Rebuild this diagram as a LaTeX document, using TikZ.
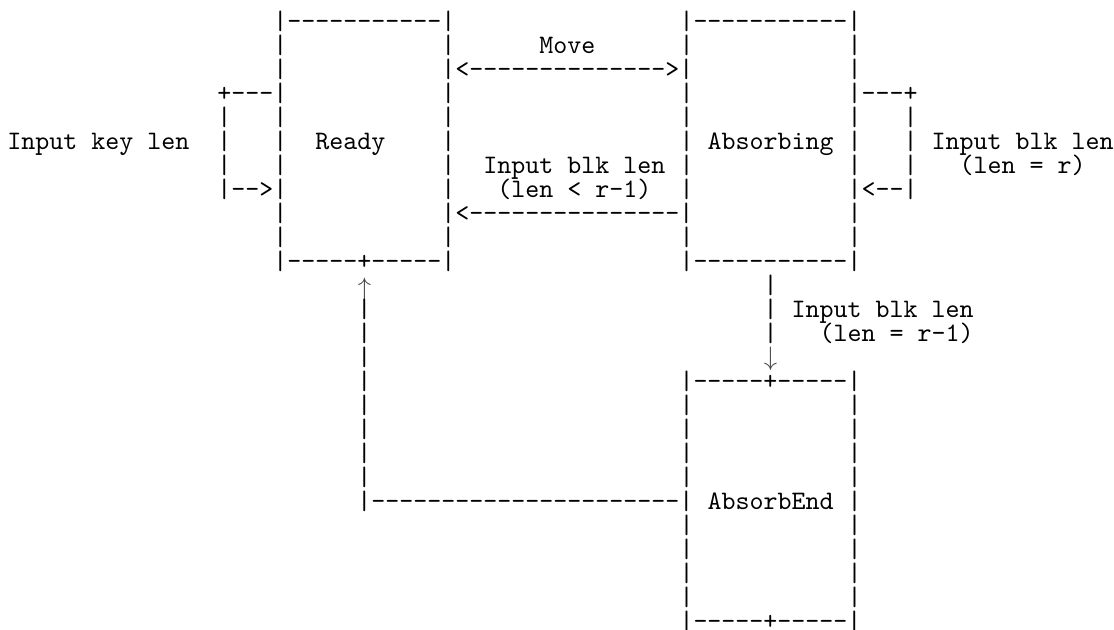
\documentclass[tikz,border=0pt]{standalone}
\usepackage{xcolor}
\tikzset{
  seg/.style={anchor=base west, inner sep=0pt, outer sep=0pt,
    font=\fontsize{10}{10}\selectfont\ttfamily, text=black}
}
% col, line, text
\newcommand\T[3]{\node[seg] (t#2-#1) at ({2.81pt+#1*5.25pt},{-10.9pt-(#2-1)*9.0pt}) {#3};}
\newcommand\arr[1]{\makebox[5.25pt]{\color{black!72}#1}}
\begin{document}
\begin{tikzpicture}
\useasboundingbox (0,0) rectangle (417.75pt,-235.9pt);
% line 1
\T{19}{1}{|-----------|} \T{48}{1}{|-----------|}
% line 2
\T{19}{2}{|} \T{31}{2}{|} \T{38}{2}{Move} \T{48}{2}{|} \T{60}{2}{|}
% line 3
\T{19}{3}{|} \T{31}{3}{|<-------------->|} \T{60}{3}{|}
% line 4
\T{15}{4}{+---|} \T{31}{4}{|} \T{48}{4}{|} \T{60}{4}{|---+}
% line 5
\T{15}{5}{|} \T{19}{5}{|} \T{31}{5}{|} \T{48}{5}{|} \T{60}{5}{|} \T{64}{5}{|}
% line 6
\T{0}{6}{Input key len} \T{15}{6}{|} \T{19}{6}{|} \T{22}{6}{Ready} \T{31}{6}{|}
\T{48}{6}{|} \T{50}{6}{Absorbing} \T{60}{6}{|} \T{64}{6}{|} \T{66}{6}{Input blk len}
% line 7
\T{15}{7}{|} \T{19}{7}{|} \T{31}{7}{|} \T{34}{7}{Input blk len} \T{48}{7}{|}
\T{60}{7}{|} \T{64}{7}{|} \T{68}{7}{(len = r)}
% line 8
\T{15}{8}{|-->|} \T{31}{8}{|} \T{35}{8}{(len < r-1)} \T{48}{8}{|} \T{60}{8}{|<--|}
% line 9
\T{19}{9}{|} \T{31}{9}{|<---------------|} \T{60}{9}{|}
% line 10
\T{19}{10}{|} \T{31}{10}{|} \T{48}{10}{|} \T{60}{10}{|}
% line 11
\T{19}{11}{|-----+-----|} \T{48}{11}{|-----------|}
% line 12
\node[seg, yshift=-1.2pt] (t12-25) at ({2.81pt+25*5.25pt},{-10.9pt-11*9.0pt}) {\arr{$\uparrow$}};
\T{54}{12}{|}
% line 13
\T{25}{13}{|} \T{54}{13}{|} \T{56}{13}{Input blk len}
% line 14
\T{25}{14}{|} \T{54}{14}{|} \T{58}{14}{(len = r-1)}
% line 15
\T{25}{15}{|} \T{54}{15}{\arr{$\downarrow$}}
% line 16
\T{25}{16}{|} \T{48}{16}{|-----+-----|}
% lines 17-20
\foreach \k in {17,...,20}{\T{25}{\k}{|} \T{48}{\k}{|} \T{60}{\k}{|}}
% line 21
\T{25}{21}{|----------------------|} \T{50}{21}{AbsorbEnd} \T{60}{21}{|}
% lines 22-25
\foreach \k in {22,...,25}{\T{48}{\k}{|} \T{60}{\k}{|}}
% line 26
\T{48}{26}{|-----+-----|}
\end{tikzpicture}
\end{document}
